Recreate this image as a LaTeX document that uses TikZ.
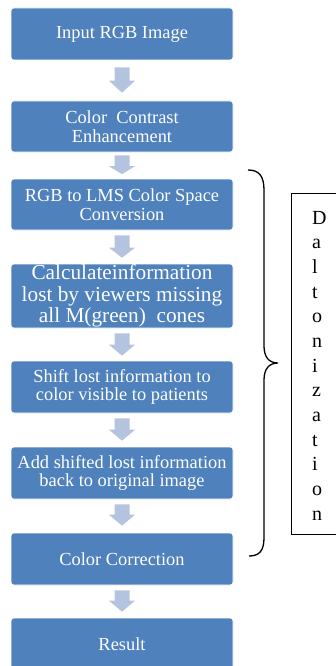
\documentclass[tikz,border=0pt]{standalone}
\usepackage{fontspec}
\setmainfont{Liberation Serif}
\usetikzlibrary{calc}
\definecolor{boxblue}{RGB}{79,129,189}
\definecolor{arrowblue}{RGB}{180,196,222}
\tikzset{
  stepbox/.style={draw=white, line width=0.6pt, fill=boxblue, rounded corners=3pt,
    minimum width=222pt, inner sep=0pt, text=white, align=center,
    font=\fontsize{18.4}{18.8}\selectfont},
  bigtext/.style={font=\fontsize{21.3}{21.7}\selectfont},
  letter/.style={anchor=base west, inner sep=0pt, font=\fontsize{20}{24}\selectfont},
  arrowfill/.style={fill=arrowblue},
}
\newcommand\blockarrow[3]{\fill[arrowfill] let \p1=#1, \p2=#2 in
  (\x1-7.5pt,\y1) -- (\x1+7.5pt,\y1) -- (\x1+7.5pt,\y2+#3) -- (\x1+13pt,\y2+#3)
  -- (\x1,\y2) -- (\x1-13pt,\y2+#3) -- (\x1-7.5pt,\y2+#3) -- cycle;}
\begin{document}
\begin{tikzpicture}[x=1pt,y=-1pt]
\useasboundingbox (0,0) rectangle (336,666);
\clip (0,0) rectangle (336,666);
\node[stepbox, minimum height=52pt] (b1) at (122,34) {Input RGB Image};
\node[stepbox, minimum height=51pt] (b2) at (122,126.5) {Color~ Contrast\\Enhancement};
\node[stepbox, minimum height=51pt] (b3) at (122,204.5) {RGB to LMS Color Space\\Conversion};
\node[stepbox, bigtext, minimum height=64pt] (b4) at (122,296) {Calculateinformation\\lost by viewers missing\\all M(green)~ cones};
\node[stepbox, minimum height=52pt] (b5) at (122,387) {Shift lost information to\\color visible to patients};
\node[stepbox, minimum height=52pt] (b6) at (122,473) {Add shifted lost information\\back to original image};
\node[stepbox, minimum height=52pt] (b7) at (122,559) {Color Correction};
\node[stepbox, minimum height=52pt] (b8) at (122,644) {Result};

\blockarrow{($(b1.south)+(0,7)$)}{($(b2.north)+(0,-8)$)}{12pt}
\blockarrow{($(b2.south)+(0,3)$)}{($(b3.north)+(0,-4.5)$)}{8pt}
\blockarrow{($(b3.south)+(0,5)$)}{($(b4.north)+(0,-6)$)}{10pt}
\blockarrow{($(b4.south)+(0,5)$)}{($(b5.north)+(0,-5)$)}{11pt}
\blockarrow{($(b5.south)+(0,5)$)}{($(b6.north)+(0,-6)$)}{11pt}
\blockarrow{($(b6.south)+(0,5)$)}{($(b7.north)+(0,-7)$)}{11pt}
\blockarrow{($(b7.south)+(0,5)$)}{($(b8.north)+(0,-6)$)}{11pt}

% brace
\coordinate (bt) at (248,170);
\coordinate (bm) at (278,363);
\coordinate (bb) at (249,556);
\draw[line width=1.3pt] (bt) .. controls (259,170) and (264,176) .. (264,190)
  -- (264,346) .. controls (264,357) and (269,363) .. (bm)
  .. controls (269,363) and (264,369) .. (264,380)
  -- (264,538) .. controls (264,551) and (259,556) .. (bb);

% label box
\node[draw, line width=1.1pt, inner sep=0pt, minimum width=52pt, minimum height=341pt, anchor=north west] (dbox) at (291,193) {};
\foreach \l [count=\i] in {D,a,l,t,o,n,i,z,a,t,i,o,n}
  \node[letter] (d\i) at (312,{224+(\i-1)*24.67}) {\l};
\end{tikzpicture}
\end{document}
